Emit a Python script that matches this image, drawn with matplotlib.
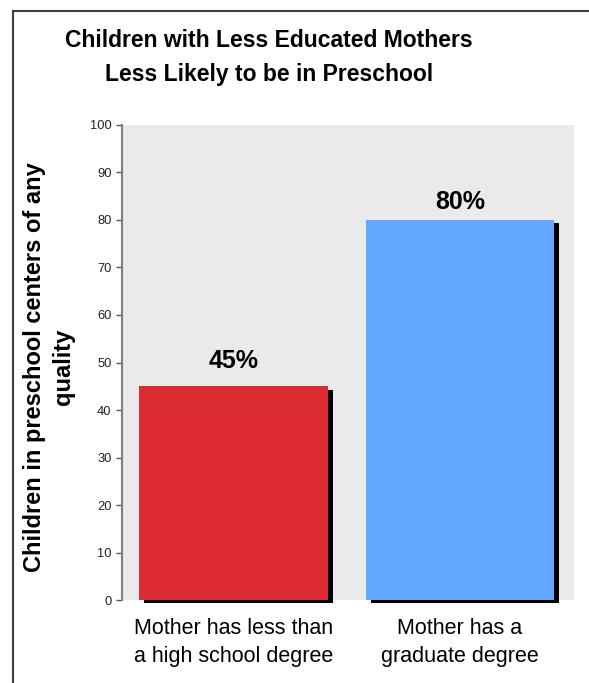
import matplotlib.pyplot as plt
import matplotlib.patheffects as pe
from matplotlib.patches import Rectangle

categories = ['Mother has less than\na high school degree', 'Mother has a\ngraduate degree']
values = [45, 80]
labels = ['45%', '80%']
colors = ['#DC2B31', '#63A8FF']
yticks = list(range(0, 101, 10))

plt.rcParams['font.family'] = ['Liberation Sans', 'DejaVu Sans']

fig = plt.figure(figsize=(5.89, 6.83), dpi=100)
ax = fig.add_axes([0.2071, 0.1215, 0.7674, 0.6955])
ax.set_facecolor('#EAEAEA')

# outer frame, runs off the right and bottom edges
fig.patches.append(Rectangle((13 / 589, -0.1), 1.2, 1 - 11 / 683 + 0.1,
                             transform=fig.transFigure, fill=False,
                             edgecolor='#404040', linewidth=1.5))

x = range(len(values))
bars = ax.bar(x, values, width=0.834, color=colors, clip_on=False, zorder=3)
for b in bars:
    b.set_path_effects([pe.SimplePatchShadow(offset=(3.6, -2.4), shadow_rgbFace='black', alpha=1.0),
                        pe.Normal()])

# label gap above each bar (data units), not uniform in the original
gaps = [5.4, 3.8]
for xi, v, lab, g in zip(x, values, labels, gaps):
    ax.text(xi, v + g, lab, ha='center', va='center', fontsize=18, fontweight='bold')

ax.set_xlim(-0.492, 1.503)
ax.set_ylim(0, 100)
ax.set_yticks(yticks)
ax.tick_params(axis='y', labelsize=9.3, colors='#222222', length=4, width=1, direction='out', color='#555555')
ax.set_xticks(list(x))
ax.set_xticklabels(categories, fontsize=15.5, linespacing=1.45)
ax.tick_params(axis='x', length=0, pad=13)
for s in ['top', 'right', 'bottom']:
    ax.spines[s].set_visible(False)
ax.spines['left'].set_color('#808080')
ax.spines['left'].set_linewidth(1.5)

fig.text(49 / 589, 1 - 367 / 683, 'Children in preschool centers of any\nquality', rotation=90,
         ha='center', va='center', fontsize=17, fontweight='bold', linespacing=1.35)

fig.text(269 / 589, 1 - 57.5 / 683, 'Children with Less Educated Mothers\nLess Likely to be in Preschool',
         ha='center', va='center', fontsize=16.5, fontweight='bold', linespacing=1.65)

fig.savefig('out.png', dpi=100)
